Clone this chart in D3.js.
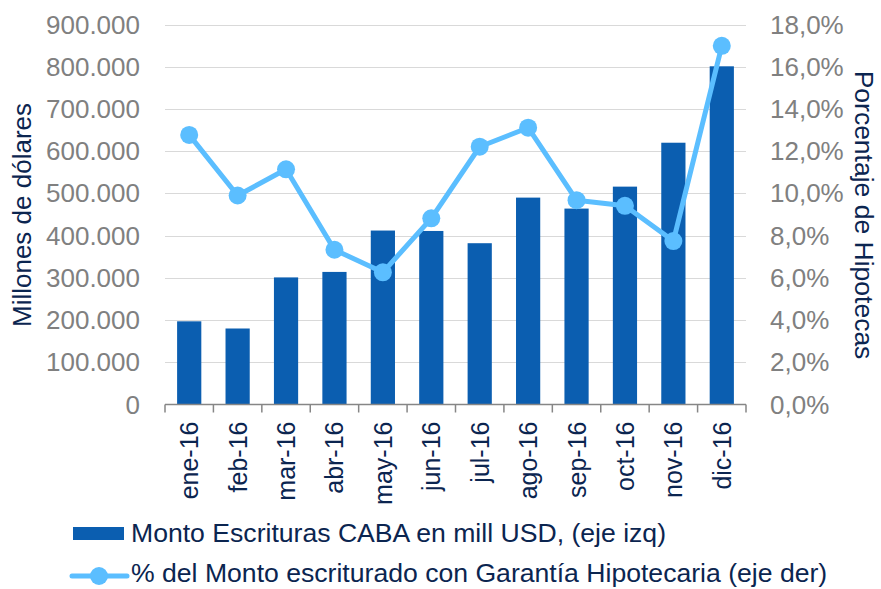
<!DOCTYPE html>
<html>
<head>
<meta charset="utf-8">
<script src="https://cdn.jsdelivr.net/npm/d3@7"></script>
<style>
  body { margin: 0; background: #fff; }
  svg { font-family: "Liberation Sans", Arial, sans-serif; }
</style>
</head>
<body>
<div id="chart"></div>
<script>
// data
const months = ['ene-16','feb-16','mar-16','abr-16','may-16','jun-16','jul-16','ago-16','sep-16','oct-16','nov-16','dic-16'];
const montoEscrituras = [197000, 180000, 301000, 314000, 412000, 411000, 382000, 490000, 464000, 516000, 620000, 801000];
const pctHipotecas = [12.77, 9.9, 11.14, 7.33, 6.26, 8.82, 12.21, 13.11, 9.68, 9.41, 7.74, 16.99];
const leftTicks = [0, 100000, 200000, 300000, 400000, 500000, 600000, 700000, 800000, 900000];
const rightTicks = [0, 2, 4, 6, 8, 10, 12, 14, 16, 18];

const width = 881, height = 589;
const navy = '#0B2550', barColor = '#0B5EB0', lineColor = '#5BBEFF', grey = '#808080';

let svg = d3.select('#chart').append('svg')
            .attr('width', width)
            .attr('height', height);

const plot = {left: 165, right: 746, top: 24.5, bottom: 404.5};

let x = d3.scaleBand()
          .domain(months)
          .range([plot.left, plot.right])
          .paddingInner(0.5)
          .paddingOuter(0.25);

let xCenter = d => x(d) + x.bandwidth()/2;

let yLeft = d3.scaleLinear().domain([0, 900000]).range([plot.bottom, plot.top]);
let yRight = d3.scaleLinear().domain([0, 18]).range([plot.bottom, plot.top]);

// gridlines
svg.append('g').selectAll('line.grid').data(leftTicks.slice(1))
   .join('line')
   .attr('class','grid')
   .attr('x1', plot.left).attr('x2', plot.right)
   .attr('y1', d => Math.round(yLeft(d)) + 0.5)
   .attr('y2', d => Math.round(yLeft(d)) + 0.5)
   .attr('stroke', '#D9D9D9')
   .attr('stroke-width', 1);

// bars
svg.append('g').selectAll('rect.bar').data(months)
   .join('rect')
   .attr('class','bar')
   .attr('x', d => x(d))
   .attr('width', x.bandwidth())
   .attr('y', (d,i) => yLeft(montoEscrituras[i]))
   .attr('height', (d,i) => plot.bottom - yLeft(montoEscrituras[i]))
   .attr('fill', barColor);

// x axis line + ticks between categories
const fmtLeft = v => v === 0 ? '0' : d3.format(',')(v).replace(/,/g, '.');
const step = (plot.right - plot.left) / months.length;
let axisG = svg.append('g');
axisG.append('line')
     .attr('x1', plot.left).attr('x2', plot.right)
     .attr('y1', plot.bottom).attr('y2', plot.bottom)
     .attr('stroke', '#868686').attr('stroke-width', 1.5);
axisG.selectAll('line.tick').data(d3.range(months.length + 1))
     .join('line')
     .attr('class','tick')
     .attr('x1', i => plot.left + i*step).attr('x2', i => plot.left + i*step)
     .attr('y1', plot.bottom).attr('y2', plot.bottom + 8)
     .attr('stroke', '#868686').attr('stroke-width', 1.5);

// category labels (rotated)
axisG.selectAll('text.cat').data(months)
     .join('text')
     .attr('class','cat')
     .attr('transform', d => `translate(${xCenter(d) + 9},${plot.bottom + 17}) rotate(-90)`)
     .attr('text-anchor', 'end')
     .attr('font-size', 25)
     .attr('fill', navy)
     .text(d => d);

// left axis labels
svg.append('g').selectAll('text').data(leftTicks)
   .join('text')
   .attr('x', 140)
   .attr('y', d => yLeft(d) + 9)
   .attr('text-anchor', 'end')
   .attr('font-size', 26)
   .attr('fill', grey)
   .text(fmtLeft);

// right axis labels
svg.append('g').selectAll('text').data(rightTicks)
   .join('text')
   .attr('x', 770)
   .attr('y', d => yRight(d) + 9)
   .attr('text-anchor', 'start')
   .attr('font-size', 26)
   .attr('fill', grey)
   .text(d => d.toFixed(1).replace('.', ',') + '%');

// axis titles
svg.append('text')
   .attr('transform', `translate(31,215) rotate(-90)`)
   .attr('text-anchor', 'middle')
   .attr('font-size', 26)
   .attr('fill', navy)
   .text('Millones de dólares');

svg.append('text')
   .attr('transform', `translate(855,215) rotate(90)`)
   .attr('text-anchor', 'middle')
   .attr('font-size', 26.5)
   .attr('fill', navy)
   .text('Porcentaje de Hipotecas');

// line series
let line = d3.line()
             .x((d,i) => xCenter(months[i]))
             .y(d => yRight(d));

svg.append('path')
   .datum(pctHipotecas)
   .attr('d', line)
   .attr('fill', 'none')
   .attr('stroke', lineColor)
   .attr('stroke-width', 5)
   .attr('stroke-linejoin', 'round');

svg.append('g').selectAll('circle').data(pctHipotecas)
   .join('circle')
   .attr('cx', (d,i) => xCenter(months[i]))
   .attr('cy', d => yRight(d))
   .attr('r', 9)
   .attr('fill', lineColor);

// legend
let legend = svg.append('g');
legend.append('rect')
      .attr('x', 73).attr('y', 527)
      .attr('width', 51).attr('height', 13)
      .attr('fill', barColor);
legend.append('text')
      .attr('x', 131).attr('y', 542)
      .attr('font-size', 26.6)
      .attr('fill', navy)
      .text('Monto Escrituras CABA en mill USD, (eje izq)');

legend.append('line')
      .attr('x1', 72).attr('x2', 127)
      .attr('y1', 576).attr('y2', 576)
      .attr('stroke', lineColor).attr('stroke-width', 5)
      .attr('stroke-linecap', 'round');
legend.append('circle')
      .attr('cx', 99).attr('cy', 576).attr('r', 9)
      .attr('fill', lineColor);
legend.append('text')
      .attr('x', 131).attr('y', 582)
      .attr('font-size', 26.6)
      .attr('fill', navy)
      .text('% del Monto escriturado con Garantía Hipotecaria (eje der)');
</script>
</body>
</html>
